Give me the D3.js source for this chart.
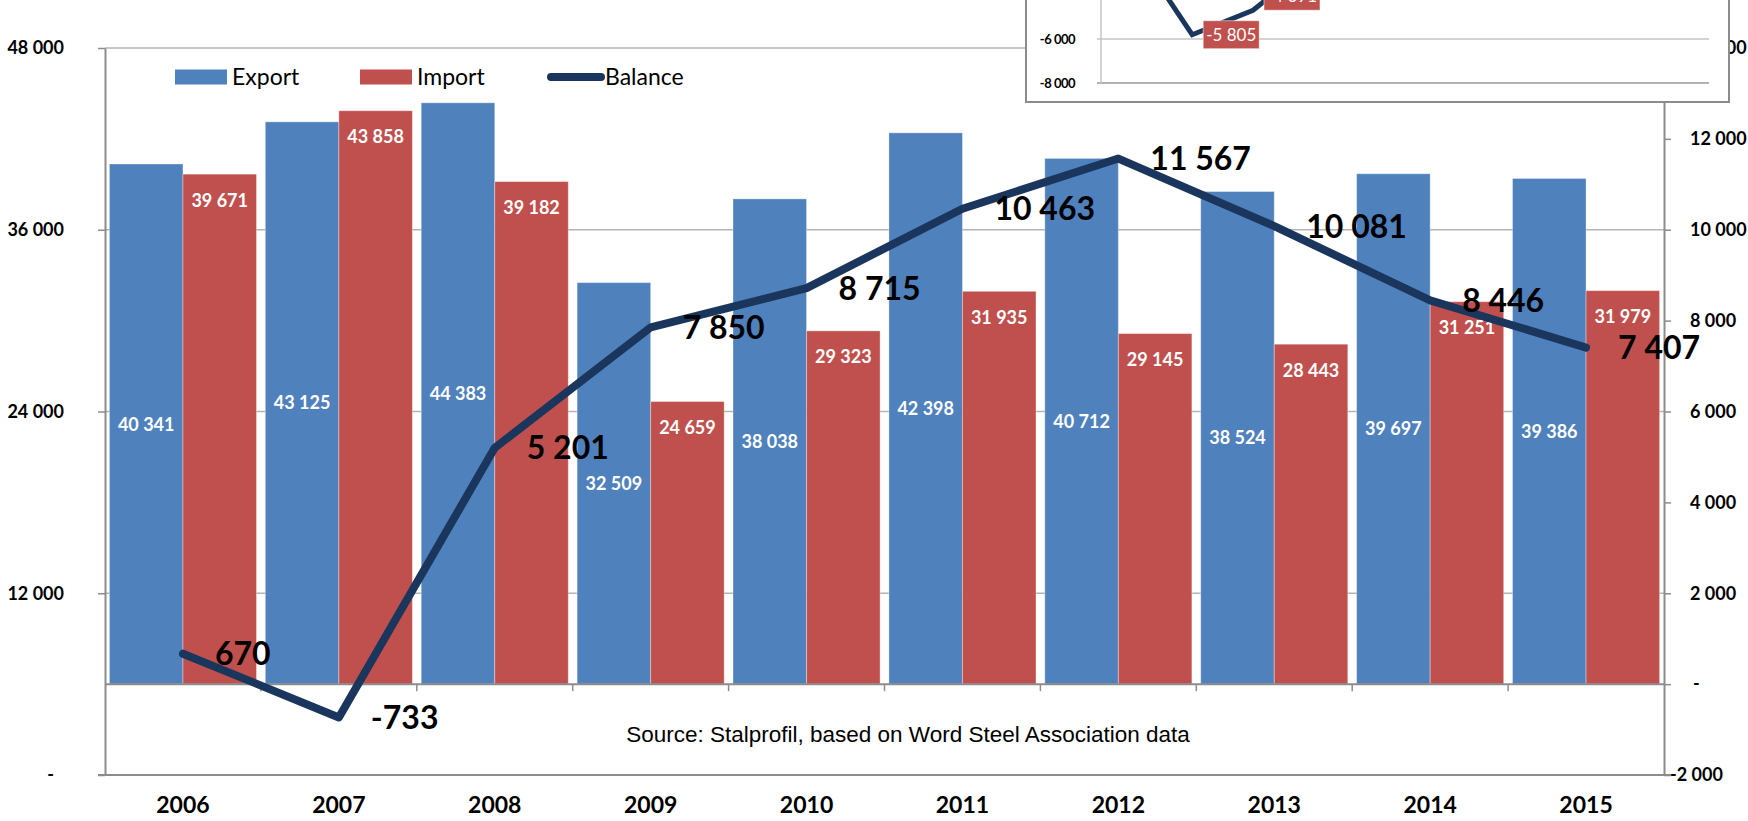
<!DOCTYPE html>
<html>
<head>
<meta charset="utf-8">
<script src="https://cdn.jsdelivr.net/npm/d3@7"></script>
<style>
    html, body { margin: 0; padding: 0; background: #ffffff; overflow: hidden; }
</style>
</head>
<body>
<div id="chart"></div>
<script>
// Steel trade: export / import (bars, left axis) and balance (line, right axis)
const years = ["2006", "2007", "2008", "2009", "2010", "2011", "2012", "2013", "2014", "2015"];
const exportValues = [40341, 43125, 44383, 32509, 38038, 42398, 40712, 38524, 39697, 39386];
const importValues = [39671, 43858, 39182, 24659, 29323, 31935, 29145, 28443, 31251, 31979];
const balanceValues = [670, -733, 5201, 7850, 8715, 10463, 11567, 10081, 8446, 7407];
const leftTicks = [0, 12000, 24000, 36000, 48000];
const rightTicks = [-2000, 0, 2000, 4000, 6000, 8000, 10000, 12000, 14000];
const legendItems = ["Export", "Import", "Balance"];
const sourceText = "Source: Stalprofil, based on Word Steel Association data";

// pasted-over fragment of another chart (top right), only its lower part is visible
const insetBalance = [-1670, -5805, -4691, -2500];
const insetTicks = [-8000, -6000];

const COLORS = { export: "#4f81bd", import: "#c0504d", balance: "#1b365d", grid: "#b4b4b4", axis: "#8c8c8c" };
const FONT = "Lato, 'Noto Sans', sans-serif";

const width = 1748, height = 821;
const plot = { left: 105, right: 1664, top: 48, bottom: 775 };

// space as thousands separator, plain hyphen for minus
const fmt = d3.formatLocale({ decimal: ",", thousands: " ", grouping: [3], currency: ["", ""], minus: "-" }).format(",");

const svg = d3.select("#chart").append("svg")
    .attr("width", width)
    .attr("height", height)
    .attr("viewBox", `0 0 ${width} ${height}`)
    .style("font-family", FONT);

const x0 = d3.scaleBand().domain(years).range([plot.left, plot.right]).padding(0);
const x1 = d3.scaleBand().domain(["export", "import"]).range([0, x0.bandwidth()])
    .paddingInner(0).paddingOuter(0.06);
const yL = d3.scaleLinear().domain([0, 48000]).range([plot.bottom, plot.top]);
const yR = d3.scaleLinear().domain([-2000, 14000]).range([plot.bottom, plot.top]);
const base = yR(0); // category axis crosses at balance = 0

// Grid lines (left axis ticks)
svg.append("g")
    .selectAll("line")
    .data(leftTicks)
    .join("line")
    .attr("x1", plot.left).attr("x2", plot.right)
    .attr("y1", d => yL(d)).attr("y2", d => yL(d))
    .attr("stroke", (d, i) => i === 0 ? COLORS.axis : COLORS.grid)
    .attr("stroke-width", (d, i) => i === 0 ? 2 : 1.5);

// Bars
const series = [
    { key: "export", values: exportValues, color: COLORS.export },
    { key: "import", values: importValues, color: COLORS.import }
];

series.forEach(s => {
    svg.append("g")
        .selectAll("rect")
        .data(years)
        .join("rect")
        .attr("x", (d) => x0(d) + x1(s.key))
        .attr("y", (d, i) => yL(s.values[i]))
        .attr("width", x1.bandwidth())
        .attr("height", (d, i) => base - yL(s.values[i]))
        .attr("fill", s.color)
        .attr("stroke", "#ffffff")
        .attr("stroke-opacity", 0.35)
        .attr("stroke-width", 1);
});

// Bar value labels: export centred, import inside end
svg.append("g")
    .selectAll("text")
    .data(years)
    .join("text")
    .attr("x", d => x0(d) + x1("export") + x1.bandwidth() / 2)
    .attr("y", (d, i) => (yL(exportValues[i]) + base) / 2)
    .attr("dy", "0.36em")
    .attr("text-anchor", "middle")
    .style("font-size", "18px")
    .style("font-weight", "bold")
    .style("fill", "#ffffff")
    .text((d, i) => fmt(exportValues[i]));

svg.append("g")
    .selectAll("text")
    .data(years)
    .join("text")
    .attr("x", d => x0(d) + x1("import") + x1.bandwidth() / 2)
    .attr("y", (d, i) => yL(importValues[i]) + 26)
    .attr("dy", "0.36em")
    .attr("text-anchor", "middle")
    .style("font-size", "18px")
    .style("font-weight", "bold")
    .style("fill", "#ffffff")
    .text((d, i) => fmt(importValues[i]));

// Left axis
const leftAxis = svg.append("g")
    .attr("transform", `translate(${plot.left},0)`)
    .call(d3.axisLeft(yL).tickValues(leftTicks).tickSize(7).tickSizeOuter(0).tickPadding(34)
        .tickFormat(d => d === 0 ? "-" : fmt(d)));
leftAxis.select(".domain").attr("stroke", COLORS.axis).attr("stroke-width", 2);
leftAxis.selectAll(".tick line").attr("stroke", COLORS.axis).attr("stroke-width", 1.5);
leftAxis.selectAll("text")
    .style("font-family", FONT).style("font-size", "18px").style("font-weight", "bold").style("fill", "#000")
    .attr("dx", d => d === 0 ? -10 : 0);

// Right axis
const rightAxis = svg.append("g")
    .attr("transform", `translate(${plot.right},0)`)
    .call(d3.axisRight(yR).tickValues(rightTicks).tickSize(7).tickSizeOuter(0).tickPadding(19)
        .tickFormat(d => d === 0 ? "-" : fmt(d)));
rightAxis.select(".domain").attr("stroke", COLORS.axis).attr("stroke-width", 2);
rightAxis.selectAll(".tick line").attr("stroke", COLORS.axis).attr("stroke-width", 1.5);
rightAxis.selectAll("text")
    .style("font-family", FONT).style("font-size", "18px").style("font-weight", "bold").style("fill", "#000")
    .attr("dx", d => d < 0 ? -20 : (d === 0 ? 3 : 0));

// Bottom frame line
svg.append("line")
    .attr("x1", plot.left - 7).attr("x2", plot.right + 7)
    .attr("y1", plot.bottom).attr("y2", plot.bottom)
    .attr("stroke", COLORS.axis).attr("stroke-width", 2);

// Category axis at balance zero, ticks on band boundaries
svg.append("line")
    .attr("x1", plot.left).attr("x2", plot.right)
    .attr("y1", base).attr("y2", base)
    .attr("stroke", COLORS.axis).attr("stroke-width", 2);

svg.append("g")
    .selectAll("line")
    .data(years.slice(1))
    .join("line")
    .attr("x1", d => x0(d)).attr("x2", d => x0(d))
    .attr("y1", base).attr("y2", base + 7)
    .attr("stroke", COLORS.axis).attr("stroke-width", 1.5);

// Year labels
svg.append("g")
    .selectAll("text")
    .data(years)
    .join("text")
    .attr("x", d => x0(d) + x0.bandwidth() / 2)
    .attr("y", 805)
    .attr("dy", "0.36em")
    .attr("text-anchor", "middle")
    .style("font-size", "23px")
    .style("font-weight", "bold")
    .style("fill", "#000")
    .text(d => d);

// Source note
svg.append("text")
    .attr("x", 908)
    .attr("y", 742)
    .attr("text-anchor", "middle")
    .style("font-family", "'Liberation Sans', Arial, sans-serif")
    .style("font-size", "22.5px")
    .style("fill", "#000")
    .text(sourceText);

// Balance line
const cx = d => x0(d) + x0.bandwidth() / 2;
const line = d3.line()
    .x((d, i) => cx(years[i]))
    .y(d => yR(d));

svg.append("path")
    .datum(balanceValues)
    .attr("d", line)
    .attr("fill", "none")
    .attr("stroke", COLORS.balance)
    .attr("stroke-width", 8)
    .attr("stroke-linejoin", "round")
    .attr("stroke-linecap", "round");

svg.append("g")
    .selectAll("text")
    .data(balanceValues)
    .join("text")
    .attr("x", (d, i) => cx(years[i]) + 32)
    .attr("y", d => yR(d))
    .attr("dy", "0.36em")
    .style("font-size", "32px")
    .style("font-weight", "bold")
    .style("fill", "#000")
    .text(d => fmt(d));

// Legend
const legend = svg.append("g").attr("transform", "translate(175,77)");
const legendX = [0, 185, 372];
legendItems.forEach((name, i) => {
    const g = legend.append("g").attr("transform", `translate(${legendX[i]},0)`);
    if (name === "Balance") {
        g.append("line")
            .attr("x1", 4).attr("x2", 54).attr("y1", 0).attr("y2", 0)
            .attr("stroke", COLORS.balance).attr("stroke-width", 8).attr("stroke-linecap", "round");
    } else {
        g.append("rect")
            .attr("x", 0).attr("y", -7.5).attr("width", 52).attr("height", 15)
            .attr("fill", name === "Export" ? COLORS.export : COLORS.import);
    }
    g.append("text")
        .attr("x", name === "Balance" ? 58 : 57)
        .attr("y", 0)
        .attr("dy", "0.36em")
        .style("font-size", "23px")
        .style("fill", "#000")
        .text(name);
});

// Inset (fragment of another chart pasted on top)
const inset = { left: 1026, right: 1729, bottom: 102, plotLeft: 1101, plotRight: 1709 };
const xi = d3.scaleBand().domain(years).range([inset.plotLeft, inset.plotRight]);
const yi = d3.scaleLinear().domain([-8000, -6000]).range([83, 39]);

const ig = svg.append("g");
ig.append("rect")
    .attr("x", inset.left).attr("y", -20)
    .attr("width", inset.right - inset.left).attr("height", inset.bottom + 20)
    .attr("fill", "#ffffff").attr("stroke", "#8c8c8c").attr("stroke-width", 2);

ig.selectAll(".igrid")
    .data(insetTicks)
    .join("line")
    .attr("class", "igrid")
    .attr("x1", inset.plotLeft - 4).attr("x2", inset.plotRight)
    .attr("y1", d => yi(d)).attr("y2", d => yi(d))
    .attr("stroke", (d, i) => i === 0 ? "#9a9a9a" : "#c4c4c4")
    .attr("stroke-width", 1.5);

ig.append("line")
    .attr("x1", inset.plotLeft).attr("x2", inset.plotLeft)
    .attr("y1", 0).attr("y2", yi(-8000))
    .attr("stroke", "#c4c4c4").attr("stroke-width", 1.5);

ig.selectAll(".itick")
    .data(insetTicks)
    .join("text")
    .attr("class", "itick")
    .attr("x", inset.plotLeft - 26)
    .attr("y", d => yi(d))
    .attr("dy", "0.36em")
    .attr("text-anchor", "end")
    .style("font-size", "13px")
    .style("font-weight", "bold")
    .style("letter-spacing", "-0.5px")
    .style("fill", "#000")
    .text(d => fmt(d));

const icx = (d, i) => xi(years[i]) + xi.bandwidth() / 2;
ig.append("path")
    .datum(insetBalance)
    .attr("d", d3.line().x(icx).y(d => yi(d)))
    .attr("fill", "none")
    .attr("stroke", COLORS.balance)
    .attr("stroke-width", 5)
    .attr("stroke-linejoin", "miter");

// data labels sit right of the point; the upper one is lifted clear of the lower box
const ilabels = ig.selectAll(".ilabel")
    .data(insetBalance.slice(1, 3))
    .join("g")
    .attr("class", "ilabel")
    .attr("transform", (d, i) => `translate(${icx(d, i + 1) + 11},${yi(d) - i * 14})`);
ilabels.append("rect")
    .attr("x", 0).attr("y", -14).attr("width", 56).attr("height", 28)
    .attr("fill", COLORS.import)
    .attr("stroke", "#ffffff").attr("stroke-opacity", 0.5);
ilabels.append("text")
    .attr("x", 28).attr("y", 0).attr("dy", "0.36em")
    .attr("text-anchor", "middle")
    .style("font-size", "17px")
    .style("fill", "#ffffff")
    .text(d => fmt(d));
</script>
</body>
</html>
